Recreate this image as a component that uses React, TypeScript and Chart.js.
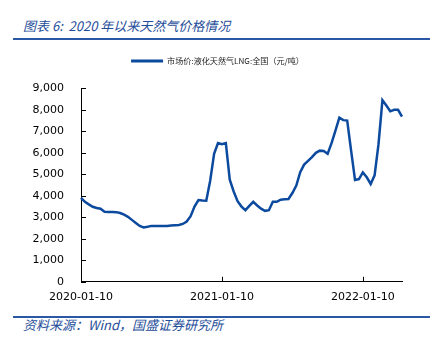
import React, { useEffect, useRef } from "react";
import { Chart, registerables } from "chart.js";

Chart.register(...registerables);

const dates: string[] = [
  "2020-01-10", "2020-01-20", "2020-01-31", "2020-02-10", "2020-02-20", "2020-02-29",
  "2020-03-10", "2020-03-20", "2020-03-31", "2020-04-10", "2020-04-20", "2020-04-30",
  "2020-05-10", "2020-05-20", "2020-05-31", "2020-06-10", "2020-06-20", "2020-06-30",
  "2020-07-10", "2020-07-20", "2020-07-31", "2020-08-10", "2020-08-20", "2020-08-31",
  "2020-09-10", "2020-09-20", "2020-09-30", "2020-10-10", "2020-10-20", "2020-10-31",
  "2020-11-10", "2020-11-20", "2020-11-30", "2020-12-10", "2020-12-20", "2020-12-31",
  "2021-01-10", "2021-01-20", "2021-01-31", "2021-02-10", "2021-02-20", "2021-02-28",
  "2021-03-10", "2021-03-20", "2021-03-31", "2021-04-10", "2021-04-20", "2021-04-30",
  "2021-05-10", "2021-05-20", "2021-05-31", "2021-06-10", "2021-06-20", "2021-06-30",
  "2021-07-10", "2021-07-20", "2021-07-31", "2021-08-10", "2021-08-20", "2021-08-31",
  "2021-09-10", "2021-09-20", "2021-09-30", "2021-10-10", "2021-10-20", "2021-10-31",
  "2021-11-10", "2021-11-20", "2021-11-30", "2021-12-10", "2021-12-20", "2021-12-31",
  "2022-01-10", "2022-01-20", "2022-01-31", "2022-02-10", "2022-02-20", "2022-02-28",
  "2022-03-10", "2022-03-20", "2022-03-31", "2022-04-10", "2022-04-20",
];

const lngPrice: number[] = [
  3900, 3720, 3600, 3490, 3430, 3400, 3260, 3250, 3250, 3240, 3200, 3120,
  3020, 2880, 2740, 2600, 2530, 2560, 2600, 2600, 2600, 2600, 2600, 2620,
  2630, 2640, 2690, 2800, 3050, 3500, 3800, 3780, 3770, 4700, 5950, 6450,
  6400, 6450, 4750, 4200, 3750, 3500, 3330, 3530, 3720, 3550, 3400, 3300,
  3330, 3720, 3720, 3820, 3840, 3850, 4130, 4480, 5100, 5450, 5620, 5800,
  6000, 6100, 6080, 5950, 6450, 7030, 7630, 7520, 7500, 6100, 4740, 4780,
  5090, 4860, 4550, 4950, 6400, 8450, 8200, 7930, 8000, 8000, 7680,
];

const shownXLabels: string[] = ["2020-01-10", "2021-01-10", "2022-01-10"];
const yTicks: number[] = [0, 1000, 2000, 3000, 4000, 5000, 6000, 7000, 8000, 9000];
const seriesName = "市场价:液化天然气LNG:全国（元/吨）";
const titleText = "图表 6:  2020 年以来天然气价格情况";
const sourceText = "资料来源：Wind，国盛证券研究所";

const LINE_COLOR = "#0B4A9E";
const RULE_COLOR = "#2A58A4";
const TEXT_BLUE = "#1F4E9A";

const innerTicks = {
  id: "innerTicks",
  afterDraw(chart: any) {
    const { ctx, chartArea, scales } = chart;
    ctx.save();
    ctx.strokeStyle = "#000";
    ctx.lineWidth = 1;
    ctx.beginPath();
    yTicks.forEach((v) => {
      const y = Math.round(scales.y.getPixelForValue(v)) + 0.5;
      ctx.moveTo(chartArea.left, y);
      ctx.lineTo(chartArea.left + 5, y);
    });
    shownXLabels.forEach((d) => {
      const i = dates.indexOf(d);
      if (i <= 0) return;
      const x = Math.round(scales.x.getPixelForValue(i)) + 0.5;
      ctx.moveTo(x, chartArea.bottom);
      ctx.lineTo(x, chartArea.bottom - 5);
    });
    ctx.stroke();
    ctx.restore();
  },
};

export default function App() {
  const ref = useRef<HTMLCanvasElement | null>(null);

  useEffect(() => {
    if (!ref.current) return;
    const chart = new Chart(ref.current, {
      type: "line",
      data: {
        labels: dates,
        datasets: [
          {
            label: seriesName,
            data: lngPrice,
            borderColor: LINE_COLOR,
            backgroundColor: LINE_COLOR,
            borderWidth: 2.5,
            pointRadius: 0,
            tension: 0,
          },
        ],
      },
      options: {
        animation: false,
        responsive: false,
        maintainAspectRatio: false,
        layout: { padding: { left: 33, right: 34, top: 0, bottom: 0 } },
        plugins: {
          legend: {
            display: true,
            position: "top",
            weight: 1000,
            labels: {
              boxWidth: 32,
              boxHeight: 3,
              color: "#222",
              font: { family: "'Noto Sans CJK SC', 'DejaVu Sans', sans-serif", size: 8.1 },
              padding: 20,
              generateLabels: (c: any) =>
                Chart.defaults.plugins.legend.labels.generateLabels(c).map((l: any) => ({ ...l, lineWidth: 0 })),
            },
          },
          title: {
            display: true,
            text: "",
            position: "top",
            weight: 500,
            font: { size: 1 },
            padding: { top: 0, bottom: 12 },
          },
          tooltip: { enabled: false },
        },
        scales: {
          x: {
            type: "category",
            offset: false,
            grid: { display: false, drawTicks: false },
            border: { display: true, color: "#000", width: 1 },
            ticks: {
              autoSkip: false,
              maxRotation: 0,
              minRotation: 0,
              padding: 9,
              color: "#000",
              font: { family: "'DejaVu Sans', sans-serif", size: 11 },
              callback: (_v: any, i: number) => (shownXLabels.includes(dates[i]) ? dates[i] : ""),
            },
          },
          y: {
            min: 0,
            max: 9000,
            grid: { display: false, drawTicks: false },
            border: { display: true, color: "#000", width: 1 },
            afterFit: (s: any) => {
              s.width = 48;
            },
            ticks: {
              stepSize: 1000,
              padding: 17,
              color: "#000",
              font: { family: "'DejaVu Sans', sans-serif", size: 11 },
              callback: (v: any) => Number(v).toLocaleString("en-US"),
            },
          },
        },
      },
      plugins: [innerTicks],
    });
    return () => chart.destroy();
  }, []);

  return (
    <div style={{ position: "fixed", left: 0, top: 0, width: 436, height: 341, background: "#fff", overflow: "hidden" }}>
      <div
        style={{
          position: "absolute",
          left: 23,
          top: 17,
          fontFamily: "'Noto Sans CJK SC', sans-serif",
          fontStyle: "italic",
          fontSize: 13,
          lineHeight: "18px",
          color: TEXT_BLUE,
          whiteSpace: "pre",
        }}
      >
        {titleText}
      </div>
      <div style={{ position: "absolute", left: 13, top: 38, width: 417, height: 2, background: RULE_COLOR }} />
      <canvas ref={ref} width={436} height={276} style={{ position: "absolute", left: 0, top: 37, width: 436, height: 276 }} />
      <div style={{ position: "absolute", left: 13, top: 316, width: 417, height: 2, background: RULE_COLOR }} />
      <div
        style={{
          position: "absolute",
          left: 23,
          top: 317,
          fontFamily: "'Noto Sans CJK SC', sans-serif",
          fontStyle: "italic",
          fontSize: 13,
          lineHeight: "16px",
          color: TEXT_BLUE,
          whiteSpace: "pre",
        }}
      >
        {sourceText}
      </div>
    </div>
  );
}
